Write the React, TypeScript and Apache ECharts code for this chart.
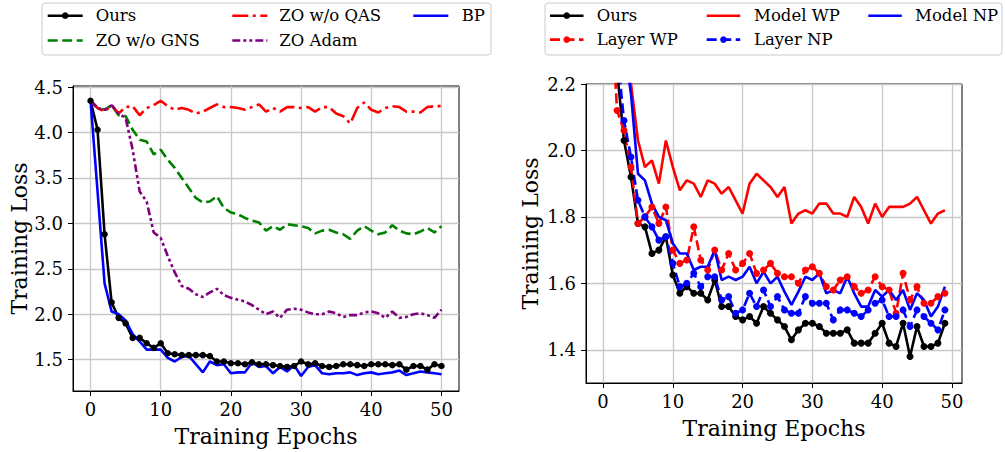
import React, { useEffect, useRef } from "react";
import * as echarts from "echarts";

const FONT = "'DejaVu Serif', serif";

// ---------- Left panel data (epochs 0..50) ----------
const epochsLeft = Array.from({ length: 51 }, (_, i) => i);
const oursLeft = [4.35, 4.03, 2.88, 2.13, 1.96, 1.9, 1.74, 1.74, 1.68, 1.63, 1.68, 1.57, 1.56, 1.55, 1.55, 1.55, 1.55, 1.54, 1.48, 1.48, 1.46, 1.46, 1.45, 1.47, 1.45, 1.45, 1.44, 1.43, 1.42, 1.43, 1.48, 1.45, 1.46, 1.43, 1.42, 1.43, 1.45, 1.45, 1.44, 1.43, 1.45, 1.45, 1.45, 1.44, 1.45, 1.39, 1.43, 1.43, 1.39, 1.45, 1.43];
const gnsLeft = [4.35, 4.27, 4.25, 4.3, 4.19, 4.18, 4.03, 3.92, 3.9, 3.76, 3.81, 3.7, 3.61, 3.5, 3.39, 3.28, 3.23, 3.24, 3.3, 3.17, 3.12, 3.1, 3.06, 3.03, 3.01, 2.92, 2.97, 2.93, 2.99, 2.98, 2.97, 2.95, 2.89, 2.92, 2.93, 2.9, 2.88, 2.83, 2.92, 2.97, 2.92, 2.88, 2.9, 2.98, 2.92, 2.89, 2.88, 2.91, 2.95, 2.9, 2.97];
const qasLeft = [4.35, 4.27, 4.23, 4.3, 4.21, 4.28, 4.29, 4.19, 4.27, 4.3, 4.35, 4.29, 4.25, 4.27, 4.25, 4.21, 4.23, 4.27, 4.31, 4.28, 4.28, 4.27, 4.25, 4.28, 4.31, 4.23, 4.27, 4.23, 4.28, 4.28, 4.27, 4.28, 4.23, 4.28, 4.28, 4.21, 4.18, 4.1, 4.27, 4.33, 4.25, 4.22, 4.27, 4.29, 4.28, 4.23, 4.23, 4.22, 4.28, 4.29, 4.29];
const adamLeft = [4.35, 4.27, 4.25, 4.3, 4.21, 4.16, 3.81, 3.35, 3.24, 2.9, 2.84, 2.64, 2.46, 2.31, 2.28, 2.22, 2.19, 2.24, 2.28, 2.21, 2.18, 2.16, 2.14, 2.1, 2.05, 2.0, 2.03, 1.96, 2.05, 2.06, 2.05, 2.02, 2.0, 2.0, 2.03, 2.01, 1.97, 1.99, 1.99, 2.02, 2.03, 2.01, 1.96, 2.03, 1.96, 1.97, 2.0, 2.01, 1.99, 1.96, 2.05];
const bpLeft = [4.35, 3.35, 2.34, 2.03, 2.0, 1.93, 1.78, 1.7, 1.61, 1.61, 1.61, 1.52, 1.48, 1.53, 1.54, 1.45, 1.36, 1.48, 1.44, 1.45, 1.35, 1.36, 1.36, 1.47, 1.42, 1.43, 1.35, 1.42, 1.37, 1.44, 1.32, 1.42, 1.44, 1.35, 1.34, 1.35, 1.35, 1.36, 1.33, 1.35, 1.36, 1.34, 1.35, 1.36, 1.38, 1.33, 1.35, 1.37, 1.36, 1.35, 1.34];

// ---------- Right panel data (epochs 0..49) ----------
const epochsRight = Array.from({ length: 50 }, (_, i) => i);
const oursRight = [3.4, 2.7, 2.24, 2.03, 1.92, 1.78, 1.77, 1.69, 1.7, 1.74, 1.625, 1.57, 1.59, 1.57, 1.57, 1.55, 1.61, 1.53, 1.53, 1.5, 1.49, 1.5, 1.48, 1.53, 1.51, 1.49, 1.47, 1.43, 1.46, 1.48, 1.48, 1.47, 1.45, 1.45, 1.45, 1.46, 1.42, 1.42, 1.42, 1.45, 1.48, 1.42, 1.41, 1.48, 1.38, 1.47, 1.41, 1.41, 1.42, 1.48];
const layerWP = [3.0, 2.5, 2.12, 2.06, 1.95, 1.78, 1.8, 1.83, 1.78, 1.83, 1.7, 1.66, 1.67, 1.77, 1.67, 1.64, 1.7, 1.64, 1.69, 1.64, 1.66, 1.69, 1.63, 1.64, 1.66, 1.63, 1.62, 1.62, 1.6, 1.64, 1.65, 1.63, 1.59, 1.58, 1.61, 1.62, 1.59, 1.57, 1.58, 1.62, 1.59, 1.58, 1.51, 1.63, 1.55, 1.59, 1.54, 1.54, 1.56, 1.57];
const modelWP = [3.2, 2.8, 2.55, 2.4, 2.2, 2.03, 1.95, 1.97, 1.9, 2.03, 1.95, 1.88, 1.91, 1.9, 1.86, 1.91, 1.9, 1.87, 1.89, 1.85, 1.81, 1.9, 1.93, 1.91, 1.89, 1.86, 1.89, 1.78, 1.81, 1.82, 1.81, 1.84, 1.84, 1.81, 1.81, 1.8, 1.86, 1.83, 1.78, 1.84, 1.8, 1.83, 1.83, 1.83, 1.84, 1.86, 1.82, 1.78, 1.81, 1.82];
const layerNP = [3.1, 2.6, 2.3, 2.09, 1.98, 1.85, 1.8, 1.77, 1.73, 1.74, 1.66, 1.59, 1.6, 1.63, 1.59, 1.62, 1.62, 1.55, 1.56, 1.51, 1.52, 1.57, 1.53, 1.58, 1.53, 1.56, 1.52, 1.51, 1.51, 1.56, 1.54, 1.54, 1.54, 1.49, 1.52, 1.52, 1.51, 1.5, 1.52, 1.54, 1.55, 1.5, 1.5, 1.52, 1.47, 1.52, 1.5, 1.48, 1.46, 1.52];
const modelNP = [3.3, 2.9, 2.6, 2.32, 2.17, 1.93, 1.91, 1.84, 1.8, 1.79, 1.72, 1.69, 1.69, 1.64, 1.65, 1.65, 1.7, 1.61, 1.62, 1.61, 1.62, 1.65, 1.6, 1.635, 1.6, 1.62, 1.575, 1.535, 1.575, 1.62, 1.61, 1.63, 1.57, 1.58, 1.57, 1.62, 1.57, 1.53, 1.53, 1.58, 1.56, 1.58, 1.55, 1.58, 1.52, 1.57, 1.55, 1.5, 1.53, 1.59];

// ---------- Tick values ----------
const xTicks = [0, 10, 20, 30, 40, 50];
const yTicksLeft = [1.5, 2.0, 2.5, 3.0, 3.5, 4.0, 4.5];
const yTicksRight = [1.4, 1.6, 1.8, 2.0, 2.2];

const DASHED = [10, 4.5];
const DASHDOT = [16, 4.5, 3, 4.5];
const DASHDOTDOT = [8, 3, 3, 3, 3, 3];

type Spec = { name: string; x: number[]; y: number[]; color: string; dash: any; marker: boolean };

const leftSpecs: Spec[] = [
  { name: "Ours", x: epochsLeft, y: oursLeft, color: "#000000", dash: "solid", marker: true },
  { name: "ZO w/o GNS", x: epochsLeft, y: gnsLeft, color: "#008000", dash: DASHED, marker: false },
  { name: "ZO w/o QAS", x: epochsLeft, y: qasLeft, color: "#ff0000", dash: DASHDOT, marker: false },
  { name: "ZO Adam", x: epochsLeft, y: adamLeft, color: "#800080", dash: DASHDOTDOT, marker: false },
  { name: "BP", x: epochsLeft, y: bpLeft, color: "#0000ff", dash: "solid", marker: false },
];

const rightSpecs: Spec[] = [
  { name: "Ours", x: epochsRight, y: oursRight, color: "#000000", dash: "solid", marker: true },
  { name: "Layer WP", x: epochsRight, y: layerWP, color: "#ff0000", dash: DASHED, marker: true },
  { name: "Model WP", x: epochsRight, y: modelWP, color: "#ff0000", dash: "solid", marker: false },
  { name: "Layer NP", x: epochsRight, y: layerNP, color: "#0000ff", dash: DASHED, marker: true },
  { name: "Model NP", x: epochsRight, y: modelNP, color: "#0000ff", dash: "solid", marker: false },
];

function makeSeries(specs: Spec[], idx: number, markerSize: number, lw: number) {
  return specs.map((s) => ({
    type: "line",
    name: s.name + (idx ? " " : ""),
    xAxisIndex: idx,
    yAxisIndex: idx,
    data: s.x.map((e, i) => [e, s.y[i]]),
    symbol: s.marker ? "circle" : "none",
    symbolSize: markerSize,
    showSymbol: s.marker,
    clip: true,
    lineStyle: { color: s.color, width: lw, type: s.dash },
    itemStyle: { color: s.color },
    emphasis: { disabled: true },
  }));
}

function makeX(idx: number, min: number, max: number) {
  return {
    type: "value",
    gridIndex: idx,
    min,
    max,
    axisLine: { show: true, onZero: false, lineStyle: { color: "#000", width: 1 } },
    axisTick: { show: true, length: 5, lineStyle: { color: "#000", width: 1 }, customValues: xTicks },
    axisLabel: { customValues: xTicks, fontSize: 18, color: "#000", margin: 9, fontFamily: FONT },
    splitLine: { show: true, lineStyle: { color: "#c8c8c8", width: 1.3 } },
    name: "Training Epochs",
    nameLocation: "middle",
    nameGap: 34,
    nameTextStyle: { fontSize: 22, color: "#000", fontFamily: FONT },
  };
}

function makeY(idx: number, min: number, max: number, ticks: number[], gap: number) {
  return {
    type: "value",
    gridIndex: idx,
    min,
    max,
    axisLine: { show: true, onZero: false, lineStyle: { color: "#000", width: 1 } },
    axisTick: { show: true, length: 5, lineStyle: { color: "#000", width: 1 }, customValues: ticks },
    axisLabel: {
      customValues: ticks,
      fontSize: 18,
      color: "#000",
      margin: 10,
      fontFamily: FONT,
      formatter: (v: number) => v.toFixed(1),
    },
    splitLine: { show: true, lineStyle: { color: "#c8c8c8", width: 1.3 } },
    name: "Training Loss",
    nameLocation: "middle",
    nameGap: gap,
    nameTextStyle: { fontSize: 22, color: "#000", fontFamily: FONT },
  };
}

function legendGraphics(
  specs: Spec[],
  box: { x: number; y: number; w: number; h: number },
  cols: { x0: number; tx: number }[],
  rows: number[],
  iconW: number,
  lw: number
) {
  const els: any[] = [
    {
      type: "rect",
      shape: { x: box.x, y: box.y, width: box.w, height: box.h, r: 3 },
      style: { fill: "rgba(255,255,255,0.8)", stroke: "#cccccc", lineWidth: 1 },
      z: 10,
    },
  ];
  specs.forEach((s, i) => {
    const c = cols[Math.floor(i / rows.length)];
    const y = rows[i % rows.length];
    els.push({
      type: "line",
      shape: { x1: c.x0, y1: y, x2: c.x0 + iconW, y2: y },
      style: { stroke: s.color, lineWidth: lw, lineDash: s.dash === "solid" ? null : s.dash },
      z: 11,
    });
    if (s.marker) {
      els.push({
        type: "circle",
        shape: { cx: c.x0 + iconW / 2, cy: y, r: 3.3 },
        style: { fill: s.color },
        z: 12,
      });
    }
    els.push({
      type: "text",
      x: c.tx,
      y,
      style: { text: s.name, fontSize: 16.5, fontFamily: FONT, fill: "#000", verticalAlign: "middle", align: "left" },
      z: 12,
    });
  });
  return els;
}

export default function App() {
  const ref = useRef<HTMLDivElement>(null);
  useEffect(() => {
    const chart = echarts.init(ref.current!, null, { renderer: "svg" });
    const option: any = {
      animation: false,
      backgroundColor: "#ffffff",
      textStyle: { fontFamily: FONT },
      grid: [
        { left: 73, top: 86, width: 386, height: 306, show: true, borderColor: "#000", borderWidth: 1, backgroundColor: "transparent" },
        { left: 586, top: 84, width: 376, height: 299, show: true, borderColor: "#000", borderWidth: 1, backgroundColor: "transparent" },
      ],
      xAxis: [makeX(0, -2.5, 52.5), makeX(1, -2.45, 51.45)],
      yAxis: [makeY(0, 1.155, 4.512, yTicksLeft, 42), makeY(1, 1.3, 2.2, yTicksRight, 45)],
      series: [...makeSeries(leftSpecs, 0, 6.5, 2.6), ...makeSeries(rightSpecs, 1, 7, 2.6)],
      graphic: [
        ...legendGraphics(
          leftSpecs,
          { x: 42, y: 3, w: 449, h: 52 },
          [
            { x0: 47.7, tx: 95.7 },
            { x0: 232.3, tx: 279.3 },
            { x0: 413.3, tx: 461.7 },
          ],
          [15.7, 40.5],
          35,
          2.6
        ),
        ...legendGraphics(
          rightSpecs,
          { x: 545, y: 3, w: 457, h: 52 },
          [
            { x0: 550, tx: 596.7 },
            { x0: 706.7, tx: 754 },
            { x0: 868.3, tx: 915 },
          ],
          [15.7, 39.6],
          33.5,
          2.6
        ),
      ],
    };
    chart.setOption(option);
    return () => chart.dispose();
  }, []);
  return (
    <div
      ref={ref}
      style={{ position: "fixed", left: 0, top: 0, width: 1005, height: 452, background: "#fff" }}
    />
  );
}
